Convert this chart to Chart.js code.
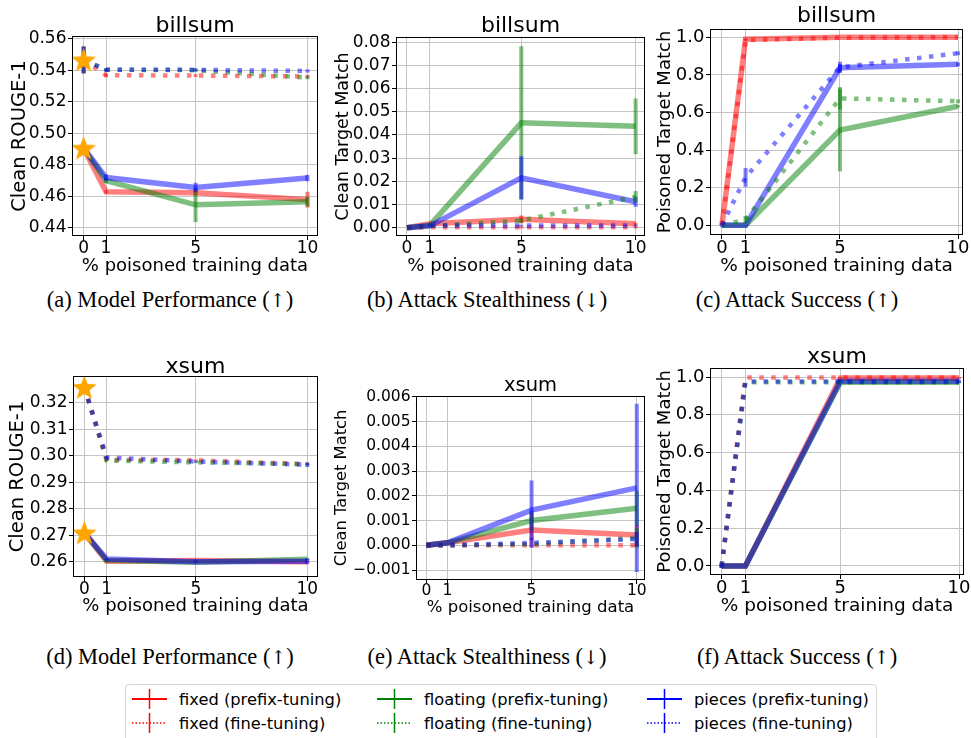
<!DOCTYPE html>
<html>
<head>
<meta charset="utf-8">
<script src="https://cdn.jsdelivr.net/npm/chart.js@4.4.1/dist/chart.umd.min.js"></script>
<style>
  html, body { margin: 0; padding: 0; background: #fff; }
  body { width: 971px; height: 738px; position: relative; overflow: hidden; font-family: "DejaVu Sans", sans-serif; }
  canvas.panel { position: absolute; }
  .caption { position: absolute; font-family: "Liberation Serif", "DejaVu Serif", serif; font-size: 22.5px; line-height: 24px; color: #000; white-space: nowrap; transform: translateX(-50%); font-variant-emoji: text; }
  .caption .arrow { font-family: "DejaVu Serif", serif; font-size: 19px; }
  .legend { position: absolute; left: 125px; top: 684px; width: 752px; height: 64px; border: 1px solid #d4d4d4; border-radius: 4px; box-sizing: border-box; background: #fff; }
  .legend-item { position: absolute; height: 22px; display: flex; align-items: center; font-size: 16.3px; color: #000; white-space: nowrap; }
  .legend-item svg { margin-right: 12px; }
</style>
</head>
<body>
<script>
// ---- data ----
const xPct = [0, 1, 5, 10];
const xTicks = [0, 1, 5, 10];
const variants = ['fixed', 'floating', 'pieces'];
const methods = ['prefix-tuning', 'fine-tuning'];

// (a) billsum, Clean ROUGE-1   rows: fixed, floating, pieces
const billsumRougePrefix = [
  [0.4905, 0.4628, 0.4622, 0.4578],
  [0.4905, 0.4698, 0.4545, 0.4565],
  [0.4905, 0.4718, 0.4655, 0.4715]
];
const billsumRougePrefixErr = [
  [0.001, 0.001, 0.002, 0.005],
  [0.001, 0.0015, 0.011, 0.003],
  [0.001, 0.002, 0.003, 0.002]
];
const billsumRougeFine = [
  [0.5465, 0.5368, 0.5366, 0.5360],
  [0.5465, 0.5403, 0.5400, 0.5352],
  [0.5465, 0.5402, 0.5402, 0.5395]
];
const billsumRougeFineErr = [
  [0.0085, 0.001, 0.001, 0.001],
  [0.0085, 0.001, 0.001, 0.001],
  [0.0085, 0.001, 0.001, 0.001]
];
const billsumRougeStars = [0.4905, 0.5465];
const billsumRougeTicks = [0.44, 0.46, 0.48, 0.50, 0.52, 0.54, 0.56];

// (b) billsum, Clean Target Match
const billsumCleanPrefix = [
  [0, 0.0017, 0.0036, 0.0017],
  [0, 0.0010, 0.0452, 0.0437],
  [0, 0.0008, 0.0215, 0.0112]
];
const billsumCleanPrefixErr = [
  [0, 0.0005, 0.0017, 0.0005],
  [0, 0.0005, 0.033, 0.012],
  [0, 0.0003, 0.0093, 0.0022]
];
const billsumCleanFine = [
  [0, 0.0002, 0.0002, 0.0002],
  [0, 0.0007, 0.0031, 0.0133],
  [0, 0.0010, 0.0010, 0.0010]
];
const billsumCleanFineErr = [
  [0, 0, 0.0005, 0.0005],
  [0, 0, 0.001, 0.0025],
  [0, 0, 0.0003, 0.0003]
];
const billsumCleanTicks = [0, 0.01, 0.02, 0.03, 0.04, 0.05, 0.06, 0.07, 0.08];

// (c) billsum, Poisoned Target Match
const billsumPoisonPrefix = [
  [0, 0.99, 1.0, 1.0],
  [0, 0, 0.507, 0.633],
  [0, 0, 0.838, 0.856]
];
const billsumPoisonPrefixErr = [
  [0, 0.005, 0, 0],
  [0, 0, 0.22, 0.005],
  [0.01, 0, 0.02, 0.01]
];
const billsumPoisonFine = [
  [0, 0.985, 0.998, 1.0],
  [0, 0.03, 0.675, 0.66],
  [0, 0.255, 0.84, 0.915]
];
const billsumPoisonFineErr = [
  [0, 0.005, 0, 0],
  [0, 0.02, 0.06, 0.01],
  [0, 0.05, 0.03, 0.01]
];
const billsumPoisonTicks = [0, 0.2, 0.4, 0.6, 0.8, 1.0];

// (d) xsum, Clean ROUGE-1
const xsumRougePrefix = [
  [0.2709, 0.2602, 0.2605, 0.2600],
  [0.2709, 0.2605, 0.2598, 0.2609],
  [0.2709, 0.2610, 0.2600, 0.2602]
];
const xsumRougePrefixErr = [
  [0.0003, 0.0003, 0.0003, 0.0003],
  [0.0003, 0.0006, 0.0003, 0.0003],
  [0.0003, 0.0003, 0.0003, 0.0011]
];
const xsumRougeFine = [
  [0.3258, 0.2985, 0.2983, 0.2968],
  [0.3258, 0.2982, 0.2975, 0.2968],
  [0.3258, 0.2993, 0.2978, 0.2966]
];
const xsumRougeFineErr = [
  [0, 0.0003, 0.0003, 0.0003],
  [0, 0.0003, 0.0003, 0.0003],
  [0, 0.0003, 0.0003, 0.0009]
];
const xsumRougeStars = [0.2709, 0.3258];
const xsumRougeTicks = [0.26, 0.27, 0.28, 0.29, 0.30, 0.31, 0.32];

// (e) xsum, Clean Target Match
const xsumCleanPrefix = [
  [0, 0.0001, 0.00062, 0.00042],
  [0, 0.0001, 0.0010, 0.0015],
  [0, 0.0001, 0.00142, 0.00232]
];
const xsumCleanPrefixErr = [
  [0, 0, 0.0007, 0.0004],
  [0, 0, 0.0004, 0.0007],
  [0, 0, 0.0012, 0.0034]
];
const xsumCleanFine = [
  [0, 0, 0, 0],
  [0, 0, 0.00005, 0.0003],
  [0, 0, 0.0001, 0.00025]
];
const xsumCleanFineErr = [
  [0, 0, 0, 0.00005],
  [0, 0, 0, 0.0004],
  [0, 0, 0.0002, 0.0003]
];
const xsumCleanTicks = [-0.001, 0, 0.001, 0.002, 0.003, 0.004, 0.005, 0.006];

// (f) xsum, Poisoned Target Match
const xsumPoisonPrefix = [
  [0, 0, 0.995, 0.995],
  [0, 0, 0.972, 0.972],
  [0, 0, 0.977, 0.977]
];
const xsumPoisonPrefixErr = [
  [0, 0, 0.005, 0.005],
  [0, 0, 0.005, 0.005],
  [0.01, 0, 0.008, 0.008]
];
const xsumPoisonFine = [
  [0, 0.998, 0.998, 0.998],
  [0, 0.972, 0.972, 0.972],
  [0, 0.976, 0.976, 0.976]
];
const xsumPoisonFineErr = [
  [0.01, 0, 0, 0],
  [0.01, 0, 0, 0],
  [0.01, 0, 0, 0]
];
const xsumPoisonTicks = [0, 0.2, 0.4, 0.6, 0.8, 1.0];

const captionText = [
  '(a) Model Performance', '(b) Attack Stealthiness', '(c) Attack Success',
  '(d) Model Performance', '(e) Attack Stealthiness', '(f) Attack Success'
];
const captionArrow = ['↑', '↓', '↑', '↑', '↓', '↑'];

// ---- styling ----
const lineColors = ['rgba(255,0,0,0.5)', 'rgba(0,128,0,0.5)', 'rgba(0,0,255,0.5)'];
const legendColors = ['#ff0000', '#008000', '#0000ff'];
const gridColor = '#c4c4c4';
const xTitle = '% poisoned training data';

// chart area / text placement of each subplot (page pixels)
const panels = [
  { L: 72, R: 324, T: 36, B: 236, xMin: -0.52, xMax: 10.47, yMin: 0.4347, yMax: 0.5617, dec: 2,
    yTicks: billsumRougeTicks, title: 'billsum', yTitle: 'Clean ROUGE-1',
    prefix: billsumRougePrefix, prefixErr: billsumRougePrefixErr, fine: billsumRougeFine, fineErr: billsumRougeFineErr, stars: billsumRougeStars,
    titleY: 26.5, titleSize: 22, tickSize: 17, tickY: 248.5, xTitleY: 266, xTitleSize: 18, yTitleX: 20, yTitleSize: 19.5 },
  { L: 396, R: 645, T: 37, B: 236, xMin: -0.48, xMax: 10.41, yMin: -0.00357, yMax: 0.0822, dec: 2,
    yTicks: billsumCleanTicks, title: 'billsum', yTitle: 'Clean Target Match',
    prefix: billsumCleanPrefix, prefixErr: billsumCleanPrefixErr, fine: billsumCleanFine, fineErr: billsumCleanFineErr,
    titleY: 26, titleSize: 22, tickSize: 17, tickY: 248.5, xTitleY: 266, xTitleSize: 18, yTitleX: 343, yTitleSize: 17.5 },
  { L: 710, R: 963, T: 29, B: 235, xMin: -0.506, xMax: 10.21, yMin: -0.0516, yMax: 1.044, dec: 1,
    yTicks: billsumPoisonTicks, title: 'billsum', yTitle: 'Poisoned Target Match',
    prefix: billsumPoisonPrefix, prefixErr: billsumPoisonPrefixErr, fine: billsumPoisonFine, fineErr: billsumPoisonFineErr,
    titleY: 16, titleSize: 22, tickSize: 18, tickY: 248, xTitleY: 266, xTitleSize: 18.5, yTitleX: 665.5, yTitleSize: 18 },
  { L: 73, R: 324, T: 376, B: 577, xMin: -0.51, xMax: 10.48, yMin: 0.25423, yMax: 0.33008, dec: 2,
    yTicks: xsumRougeTicks, title: 'xsum', yTitle: 'Clean ROUGE-1',
    prefix: xsumRougePrefix, prefixErr: xsumRougePrefixErr, fine: xsumRougeFine, fineErr: xsumRougeFineErr, stars: xsumRougeStars,
    titleY: 367, titleSize: 22, tickSize: 17, tickY: 589.5, xTitleY: 606, xTitleSize: 18, yTitleX: 18, yTitleSize: 19.5 },
  { L: 416, R: 645, T: 396, B: 580, xMin: -0.49, xMax: 10.39, yMin: -0.0014, yMax: 0.00603, dec: 3,
    yTicks: xsumCleanTicks, title: 'xsum', yTitle: 'Clean Target Match',
    prefix: xsumCleanPrefix, prefixErr: xsumCleanPrefixErr, fine: xsumCleanFine, fineErr: xsumCleanFineErr,
    titleY: 386, titleSize: 19.5, tickSize: 15.5, tickY: 591, xTitleY: 608, xTitleSize: 16.5, yTitleX: 342, yTitleSize: 16.3 },
  { L: 710, R: 964, T: 368, B: 575, xMin: -0.49, xMax: 10.21, yMin: -0.0477, yMax: 1.0477, dec: 1,
    yTicks: xsumPoisonTicks, title: 'xsum', yTitle: 'Poisoned Target Match',
    prefix: xsumPoisonPrefix, prefixErr: xsumPoisonPrefixErr, fine: xsumPoisonFine, fineErr: xsumPoisonFineErr,
    titleY: 357, titleSize: 22, tickSize: 18, tickY: 588, xTitleY: 606, xTitleSize: 18.5, yTitleX: 665.5, yTitleSize: 18 }
];
const captionPos = [[170, 300], [487, 300], [797, 300], [170, 657], [487, 657], [797, 657]];

// orange star marker like matplotlib '*'
function desenharEstrela(size) {
  const c = document.createElement('canvas');
  c.width = size; c.height = size;
  const g = c.getContext('2d');
  const ro = size / 2 - 0.5, ri = ro * 0.42;
  g.beginPath();
  for (let k = 0; k < 10; k++) {
    const r = k % 2 ? ri : ro;
    const a = -Math.PI / 2 + k * Math.PI / 5;
    g.lineTo(size / 2 + r * Math.cos(a), size / 2 + 1 + r * Math.sin(a));
  }
  g.closePath();
  g.fillStyle = '#ffa500';
  g.fill();
  return c;
}
const starImg = desenharEstrela(27);

// black box around the axes
const framePlugin = {
  id: 'frame',
  afterDatasetsDraw(chart) {
    const { ctx, chartArea: a } = chart;
    ctx.save();
    ctx.strokeStyle = '#000';
    ctx.lineWidth = 1;
    ctx.strokeRect(a.left + 0.5, a.top + 0.5, a.right - a.left - 1, a.bottom - a.top - 1);
    ctx.restore();
  }
};

function buildDatasets(p) {
  const sets = [];
  let order = 1000;
  [[p.prefix, p.prefixErr, false], [p.fine, p.fineErr, true]].forEach(([vals, errs, dotted]) => {
    vals.forEach((row, s) => {
      const color = lineColors[s];
      sets.push({
        data: xPct.map((x, i) => ({ x, y: row[i] })),
        borderColor: color,
        borderWidth: dotted ? 4.5 : 5.5,
        borderDash: dotted ? [4.5, 7.5] : [],
        pointRadius: 0,
        fill: false,
        tension: 0,
        order: order--
      });
      errs[s].forEach((e, i) => {
        if (!e) return;
        sets.push({
          data: [{ x: xPct[i], y: row[i] - e }, { x: xPct[i], y: row[i] + e }],
          borderColor: color, borderWidth: 4, pointRadius: 0, fill: false, order: order--
        });
      });
    });
  });
  if (p.stars) {
    sets.push({
      data: p.stars.map(y => ({ x: 0, y })),
      showLine: false, pointStyle: starImg, pointRadius: 13, order: -1
    });
  }
  return sets;
}

const font = (size) => ({ family: '"DejaVu Sans", sans-serif', size, weight: 'normal', lineHeight: 1 });
const tickLen = 4;

panels.forEach(p => {
  const cl = Math.round(p.yTitleX - p.yTitleSize / 2 - 3);
  const ct = Math.floor(p.titleY - p.titleSize / 2 - 2);
  const rightPad = 8;
  const xH = Math.round(p.xTitleY + p.xTitleSize / 2 + 3 - p.B);
  const w = Math.min(971, p.R + rightPad) - cl;
  const h = p.B + xH - ct;

  const cv = document.createElement('canvas');
  cv.className = 'panel';
  cv.width = w; cv.height = h;
  cv.style.left = cl + 'px'; cv.style.top = ct + 'px';
  cv.style.width = w + 'px'; cv.style.height = h + 'px';
  document.body.appendChild(cv);

  const titlePadTop = p.titleY - ct - p.titleSize / 2;
  const titlePadBottom = p.T - p.titleY - p.titleSize / 2;

  new Chart(cv, {
    type: 'line',
    data: { datasets: buildDatasets(p) },
    plugins: [framePlugin],
    options: {
      responsive: false,
      animation: false,
      devicePixelRatio: 1,
      events: [],
      layout: { padding: { left: 0, top: 0, bottom: 0, right: w - (p.R - cl) } },
      plugins: {
        legend: { display: false },
        tooltip: { enabled: false },
        title: {
          display: true, text: p.title, color: '#000', fullSize: false,
          font: font(p.titleSize),
          padding: { top: titlePadTop, bottom: titlePadBottom }
        }
      },
      scales: {
        x: {
          type: 'linear', min: p.xMin, max: p.xMax,
          afterBuildTicks: s => { s.ticks = xTicks.map(v => ({ value: v })); },
          afterFit: s => { s.height = xH; s.paddingLeft = 0; s.paddingRight = 0; },
          grid: { color: gridColor, lineWidth: 1, tickLength: tickLen, tickColor: '#000', drawTicks: true },
          border: { display: false },
          ticks: {
            autoSkip: false, maxRotation: 0, color: '#000', font: font(p.tickSize),
            padding: p.tickY - p.B - tickLen - p.tickSize / 2,
            callback: v => String(v)
          },
          title: {
            display: true, text: xTitle, color: '#000', font: font(p.xTitleSize),
            padding: { top: 0, bottom: p.B + xH - p.xTitleY - p.xTitleSize / 2 }
          }
        },
        y: {
          type: 'linear', min: p.yMin, max: p.yMax,
          afterBuildTicks: s => { s.ticks = p.yTicks.map(v => ({ value: v })); },
          afterFit: s => { s.width = p.L - cl; s.paddingTop = 0; s.paddingBottom = 0; },
          grid: { color: gridColor, lineWidth: 1, tickLength: tickLen, tickColor: '#000', drawTicks: true },
          border: { display: false },
          ticks: {
            autoSkip: false, color: '#000', font: font(p.tickSize), padding: 1.5,
            callback: v => v.toFixed(p.dec).replace('-', '\u2212')
          },
          title: {
            display: true, text: p.yTitle, color: '#000', font: font(p.yTitleSize),
            padding: { top: p.yTitleX - cl - p.yTitleSize / 2, bottom: 0 }
          }
        }
      }
    }
  });
});

// captions
captionText.forEach((txt, i) => {
  const d = document.createElement('div');
  d.className = 'caption';
  d.append(txt + ' (');
  const arrow = document.createElement('span');
  arrow.className = 'arrow';
  arrow.textContent = captionArrow[i] + '\uFE0E';
  d.append(arrow, ')');
  d.style.left = captionPos[i][0] + 'px';
  d.style.top = (captionPos[i][1] - 12) + 'px';
  document.body.appendChild(d);
});

// legend: columns = variants, rows = methods
const legend = document.createElement('div');
legend.className = 'legend';
document.body.appendChild(legend);
const colX = [6, 251, 521];
const rowY = [3, 27];
methods.forEach((m, r) => {
  variants.forEach((v, c) => {
    const item = document.createElement('div');
    item.className = 'legend-item';
    item.style.left = colX[c] + 'px';
    item.style.top = rowY[r] + 'px';
    const col = legendColors[c];
    const dash = r === 1 ? ' stroke-dasharray="1.5 2"' : '';
    const sw = r === 1 ? 1.5 : 2;
    item.innerHTML = '<svg width="35" height="22" viewBox="0 0 35 22">' +
      '<line x1="0" y1="11" x2="35" y2="11" stroke="' + col + '" stroke-width="' + sw + '"' + dash + '/>' +
      '<line x1="17.5" y1="1" x2="17.5" y2="21" stroke="' + col + '" stroke-width="1.5"/></svg>';
    const span = document.createElement('span');
    span.textContent = v + ' (' + m + ')';
    item.appendChild(span);
    legend.appendChild(item);
  });
});
</script>
</body>
</html>
